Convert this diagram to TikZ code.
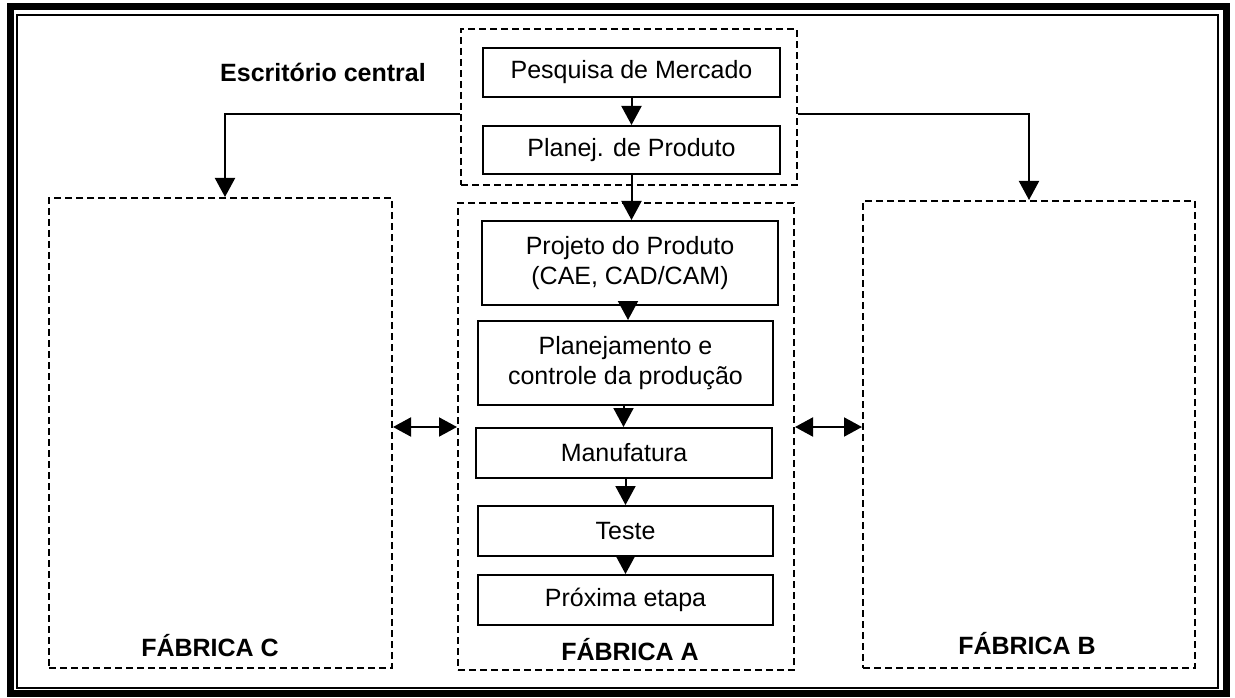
\documentclass[tikz,border=0pt]{standalone}
\usepackage{fontspec}
\setmainfont{Liberation Sans}
\usetikzlibrary{arrows.meta}

\tikzset{
  etapa/.style={draw, line width=2pt, align=center, inner sep=0pt,
    font=\fontsize{25}{30}\selectfont},
  grupo/.style={draw, line width=2pt, dash pattern=on 7pt off 4pt, inner sep=0pt},
  rotulo/.style={inner sep=0pt, font=\bfseries\fontsize{25}{30}\selectfont},
  seta/.style={line width=2pt, -{Triangle[length=19pt,width=20pt]}},
  setadupla/.style={line width=2pt,
    {Triangle[length=18pt,width=19pt]}-{Triangle[length=18pt,width=19pt]}}
}

\begin{document}
\begin{tikzpicture}[x=1pt,y=-1pt]
        \useasboundingbox (0,0) rectangle (1235,698);

        %Double frame round the page
        \draw [line width=7pt] (10,6.5) rectangle (1226.5,693.5); %thick outer
        \draw [line width=2pt] (17,15) rectangle (1218,687.5); %thin inner

        %Escritorio central
        \node [grupo, minimum width=336pt, minimum height=156pt] (escritorio) at (629,107) {};
        \node [rotulo] (lblEscritorio) at (323,72) {Escritório central};
        \node [etapa, minimum width=297pt, minimum height=49pt] (pesquisa) at (631.5,72.5) {Pesquisa de Mercado};
        \node [etapa, minimum width=297pt, minimum height=48pt] (planej) at (631.5,150) {Planej. de Produto};

        %Fabricas (dashed boxes)
        \node [grupo, minimum width=343pt, minimum height=470pt] (fabC) at (220.5,433) {};
        \node [grupo, minimum width=336pt, minimum height=467pt] (fabA) at (626,436.5) {};
        \node [grupo, minimum width=332pt, minimum height=467pt] (fabB) at (1029,434.5) {};
        \node [rotulo] (lblC) at (210,646) {FÁBRICA C};
        \node [rotulo] (lblA) at (630,650) {FÁBRICA A};
        \node [rotulo] (lblB) at (1027,644) {FÁBRICA B};

        %Steps inside Fabrica A
        \node [etapa, minimum width=296pt, minimum height=84pt] (projeto) at (630,263) {Projeto do Produto\\(CAE, CAD/CAM)};
        \node [etapa, minimum width=295pt, minimum height=84pt] (planejamento) at (625.5,363) {Planejamento e\\controle da produção};
        \node [etapa, minimum width=296pt, minimum height=50pt] (manufatura) at (624,453) {Manufatura};
        \node [etapa, minimum width=295pt, minimum height=50pt] (teste) at (625.5,531) {Teste};
        \node [etapa, minimum width=295pt, minimum height=50pt] (proxima) at (625.5,600) {Próxima etapa};

        %Arrows between the steps
        \draw [seta] (pesquisa.south) -- (planej.north);
        \draw [seta] (planej.south) -- (planej.south |- projeto.north);
        \draw [seta] ([xshift=-2pt]projeto.south) -- ([xshift=-2pt]projeto.south |- planejamento.north);
        \draw [seta] ([xshift=-2pt]planejamento.south) -- ([xshift=-2pt]planejamento.south |- manufatura.north);
        \draw [seta] (teste.north |- manufatura.south) -- (teste.north);
        \draw [seta] (teste.south) -- (proxima.north);

        %Escritorio central to Fabrica C and Fabrica B
        \coordinate (ramo) at (0,114);
        \draw [seta] (escritorio.west |- ramo) -| ([xshift=4.5pt]fabC.north);
        \draw [seta] (escritorio.east |- ramo) -| (fabB.north);

        %Fabrica A exchanging with C and B
        \coordinate (meio) at (0,427);
        \draw [setadupla] (fabC.east |- meio) -- (fabA.west |- meio);
        \draw [setadupla] (fabA.east |- meio) -- (fabB.west |- meio);

\end{tikzpicture}
\end{document}
